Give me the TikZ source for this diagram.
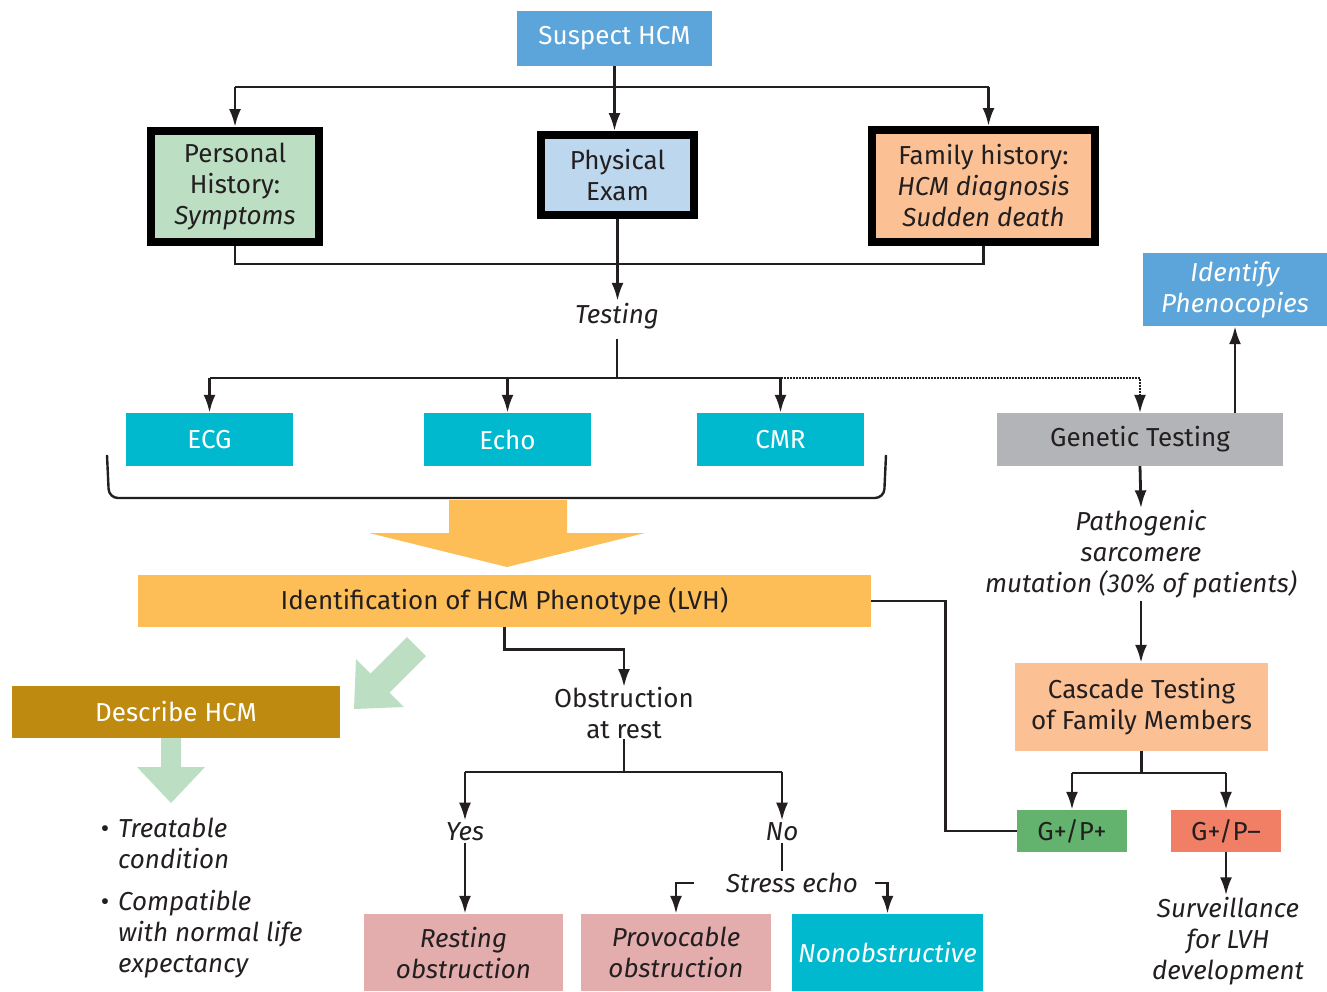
\documentclass[tikz,border=0pt]{standalone}
\usepackage{fontspec}
\setmainfont{Fira Sans}
\usetikzlibrary{arrows.meta,calc}
\definecolor{hblau}{HTML}{5CA5DB}
\definecolor{hblaul}{HTML}{BDD7EE}
\definecolor{hgruen}{HTML}{BCDEC2}
\definecolor{pfirsich}{HTML}{FBC194}
\definecolor{tuerkis}{HTML}{00B9CE}
\definecolor{orange1}{HTML}{FDBE58}
\definecolor{gold}{HTML}{BF8A10}
\definecolor{rosa}{HTML}{E4ADAD}
\definecolor{grau}{HTML}{B3B4B7}
\definecolor{gruen}{HTML}{63B36F}
\definecolor{rot}{HTML}{F17F66}
\definecolor{schrift}{HTML}{231F20}
\newcommand{\flowfont}{\fontsize{26}{31}\selectfont}
\tikzset{
  lin/.style={schrift,line width=2.8pt},
  pfeil/.style={-{Latex[length=18pt,width=12pt]},lin},
  punkt/.style={-{Latex[length=18pt,width=12pt]},schrift,line width=2pt,dash pattern=on 2pt off 1pt},
  kasten/.style={inner sep=0pt,align=center,font=\flowfont,text=schrift},
  rahmen/.style={kasten,draw=black,line width=8pt},
  kursiv/.style={font=\flowfont\itshape},
  notiz/.style={inner sep=2pt,align=center,font=\flowfont\itshape,text=schrift},
}

\begin{document}
\begin{tikzpicture}[x=1pt,y=-1pt]
  \useasboundingbox (0,0) rectangle (1327,991);
  \node[kasten,fill=hblau,text=white,minimum width=195pt,minimum height=55pt] (suspect) at (614.5,38.5) {Suspect HCM};
  \node[rahmen,fill=hgruen,minimum width=168pt,minimum height=111pt] (personal) at (235,186.5) {Personal\\History:\\\textit{Symptoms}};
  \node[rahmen,fill=hblaul,minimum width=153pt,minimum height=80pt] (physical) at (617.5,175) {Physical\\Exam};
  \node[rahmen,fill=pfirsich,minimum width=223pt,minimum height=112pt] (family) at (983.5,186) {Family history:\\\textit{HCM diagnosis}\\\textit{Sudden death}};
  \node[notiz] (testing) at (617,316) {Testing};
  \node[kasten,fill=tuerkis,text=white,minimum width=167pt,minimum height=53pt] (ecg) at (209.5,439.5) {ECG};
  \node[kasten,fill=tuerkis,text=white,minimum width=167pt,minimum height=53pt] (echo) at (507.5,439.5) {Echo};
  \node[kasten,fill=tuerkis,text=white,minimum width=167pt,minimum height=53pt] (cmr) at (780.5,439.5) {CMR};
  \node[kasten,fill=grau,minimum width=286pt,minimum height=53pt] (genetic) at (1140,439.5) {Genetic Testing};
  \node[kasten,kursiv,fill=hblau,text=white,minimum width=184pt,minimum height=73pt] (identify) at (1235,289.5) {Identify\\Phenocopies};
  \node[kasten,fill=orange1,minimum width=733pt,minimum height=52pt] (ident) at (504.5,601) {Identification of HCM Phenotype (LVH)};
  \node[notiz] (patho) at (1141,554.5) {Pathogenic\\sarcomere\\mutation (30\% of patients)};
  \node[kasten,fill=pfirsich,minimum width=253pt,minimum height=88pt] (cascade) at (1141.5,707) {Cascade Testing\\of Family Members};
  \node[kasten,fill=gruen,minimum width=110pt,minimum height=42pt] (gpp) at (1072,831) {G+/P+};
  \node[kasten,fill=rot,minimum width=110pt,minimum height=42pt] (gpm) at (1226,831) {G+/P--};
  \node[notiz] (surv) at (1228,941.5) {Surveillance\\for LVH\\development};
  \node[kasten,fill=gold,text=white,minimum width=328pt,minimum height=52pt] (describe) at (176,712) {Describe HCM};
  \node[notiz,align=left,anchor=west] (treat) at (116,843.5) {\llap{\upshape\textbullet\hspace{9pt}}Treatable\\condition};
  \node[notiz,align=left,anchor=west] (compat) at (116,934.5) {\llap{\upshape\textbullet\hspace{9pt}}Compatible\\with normal life\\expectancy};
  \node[kasten] (obst) at (624,713) {Obstruction\\at rest};
  \node[notiz] (yes) at (465,832) {Yes};
  \node[notiz] (no) at (782,832) {No};
  \node[notiz] (stress) at (792,883) {Stress echo};
  \node[kasten,kursiv,fill=rosa,minimum width=199pt,minimum height=77pt] (resting) at (463.5,952.5) {Resting\\obstruction};
  \node[kasten,kursiv,fill=rosa,minimum width=190pt,minimum height=77pt] (provoc) at (676,952.5) {Provocable\\obstruction};
  \node[kasten,kursiv,fill=tuerkis,text=white,minimum width=191pt,minimum height=77pt] (nonob) at (887.5,952.5) {Nonobstructive};

  \draw[schrift,line width=2.4pt,rounded corners=9pt] (107,455) -- (109,498) -- (884,498) -- (886,455);
  \fill[orange1] (449,500) -- (567,500) -- (567,533) -- (645,533) -- (507,567) -- (369,533) -- (449,533) -- cycle;
  \fill[hgruen] (407,637) -- (370.5,673.5) -- (356,659) -- (354,709) -- (404,707) -- (389.5,692.5) -- (426,656) -- cycle;
  \fill[hgruen] (161,738) -- (181,738) -- (181,767) -- (205,767) -- (171,803) -- (137,767) -- (161,767) -- cycle;

  \coordinate (top) at (614.5,87);
  \coordinate (unten) at (617,264);
  \coordinate (tz) at (617,378);
  \coordinate (cz) at (1141.5,773);
  \coordinate (oz) at (624,772);
  \draw[pfeil] (suspect.south) -- (suspect.south |- physical.north);
  \draw[lin] (personal.north |- top) -- ([xshift=5pt]family.north |- top);
  \draw[pfeil] (personal.north |- top) -- (personal.north);
  \draw[pfeil] ([xshift=5pt]family.north |- top) -- ([xshift=5pt]family.north);
  \draw[lin] (personal.south) |- (unten) -| (family.south);
  \draw[pfeil] (physical.south) -- (physical.south |- testing.north);
  \draw[lin,shorten <=8pt] (testing.south) -- (tz);
  \draw[lin] (ecg.north |- tz) -- (cmr.north |- tz);
  \foreach \n in {ecg,echo,cmr}
    \draw[pfeil] (\n.north |- tz) -- (\n.north);
  \draw[punkt] (cmr.north |- tz) -| (genetic.north);
  \draw[pfeil] (genetic.north -| identify) -- (identify.south);
  \draw[pfeil] (genetic.south) -- (patho.north);
  \draw[pfeil] (patho.south) -- (patho.south |- cascade.north);
  \draw[lin] (cascade.south) -- (cz);
  \draw[lin] (gpp.north |- cz) -- (gpm.north |- cz);
  \draw[pfeil] (gpp.north |- cz) -- (gpp.north);
  \draw[pfeil] (gpm.north |- cz) -- (gpm.north);
  \draw[pfeil] (gpm.south) -- (gpm.south |- surv.north);
  \draw[lin] (ident.east) -- ++(74,0) |- (gpp.west);
  \draw[pfeil] (ident.south) -- ++(0,22) -| (obst.north);
  \draw[lin] (obst.south) -- (oz);
  \draw[lin] (yes.north |- oz) -- (no.north |- oz);
  \draw[pfeil] (yes.north |- oz) -- (yes.north);
  \draw[pfeil] (no.north |- oz) -- (no.north);
  \draw[pfeil] (yes.south) -- (yes.south |- resting.north);
  \draw[lin] (no.south) -- (no.south |- stress.north);
  \draw[pfeil] ([xshift=-30pt]stress.west) -| (provoc.north);
  \draw[pfeil] ([xshift=15pt]stress.east) -| (nonob.north);
\end{tikzpicture}
\end{document}
